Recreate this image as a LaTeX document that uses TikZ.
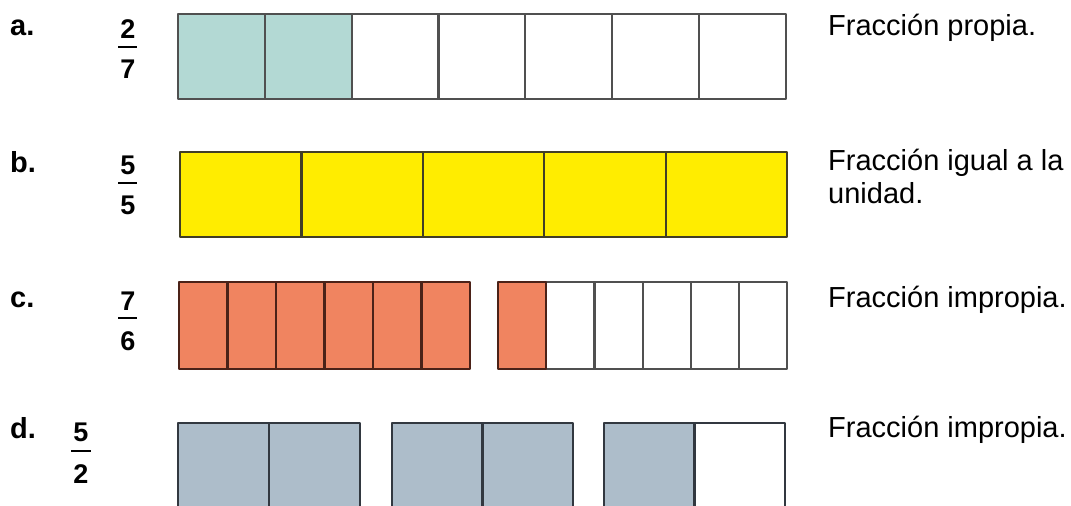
\documentclass[tikz,border=0pt]{standalone}
\usepackage{fontspec}
\setmainfont{Liberation Sans}
\usetikzlibrary{positioning}
\definecolor{tealFill}{RGB}{179,217,212}
\definecolor{sunFill}{RGB}{255,237,0}
\definecolor{coralFill}{RGB}{240,132,96}
\definecolor{slateFill}{RGB}{173,189,202}
\definecolor{cellLine}{RGB}{80,80,80}
\definecolor{sunLine}{RGB}{65,62,38}
\definecolor{coralLine}{RGB}{75,34,24}
\definecolor{slateLine}{RGB}{50,56,64}
\tikzset{
  cell/.style={draw=cellLine, line width=2.2pt, line join=round, fill=white},
  tag/.style={anchor=base west, inner sep=0pt, font=\fontsize{29}{33}\selectfont\bfseries},
  digit/.style={anchor=base, inner sep=0pt, font=\fontsize{27}{30}\selectfont\bfseries},
  fbar/.style={line width=1.5pt},
  note/.style={anchor=base west, inner sep=0pt, font=\fontsize{29}{33}\selectfont},
}

\begin{document}
\begin{tikzpicture}[x=1pt, y=-1pt]
  \clip (0,0) rectangle (1071,506);

  \node[tag] (la) at (10,35) {a.};
  \node[digit] (na) at (128,38) {2};
  \node[digit] (da) at (128,78) {7};
  \draw[fbar] (118,47) -- (137,47);
  \foreach \i/\f in {0/tealFill,1/tealFill,2/white,3/white,4/white,5/white,6/white}
    \draw[cell, fill=\f] ({178+86.8*\i},14) rectangle ++(86.8,85);
  \node[note] (ta) at (828,35) {Fracción propia.};

  \node[tag] (lb) at (10,172) {b.};
  \node[digit] (nb) at (128,174) {5};
  \node[digit] (db) at (128,214) {5};
  \draw[fbar] (118,183) -- (137,183);
  \foreach \i in {0,...,4}
    \draw[cell, fill=sunFill, draw=sunLine] ({180+121.4*\i},152) rectangle ++(121.4,85);
  \node[note] (tb) at (828,170) {Fracción igual a la};
  \node[note] (tb2) at (828,203) {unidad.};

  \node[tag] (lc) at (10,307) {c.};
  \node[digit] (nc) at (128,310) {7};
  \node[digit] (dc) at (128,350) {6};
  \draw[fbar] (118,318) -- (137,318);
  \foreach \i in {0,...,5}
    \draw[cell, fill=coralFill, draw=coralLine] ({179+48.5*\i},282) rectangle ++(48.5,87);
  \foreach \i in {1,...,5}
    \draw[cell] ({498+48.2*\i},282) rectangle ++(48.2,87);
  \draw[cell, fill=coralFill, draw=coralLine] (498,282) rectangle ++(48.2,87);
  \node[note] (tc) at (828,307) {Fracción impropia.};

  \node[tag] (ld) at (10,438) {d.};
  \node[digit] (nd) at (81,441) {5};
  \node[digit] (dd) at (81,483) {2};
  \draw[fbar] (71,451) -- (91,451);
  \foreach \x/\f in {178/slateFill,269/slateFill,392/slateFill,482.5/slateFill,604/slateFill,694.5/white}
    \draw[cell, fill=\f, draw=slateLine] (\x,423) rectangle ++({\x==178 || \x==269 ? 91 : 90.5},110);
  \node[note] (td) at (828,437) {Fracción impropia.};
\end{tikzpicture}
\end{document}
